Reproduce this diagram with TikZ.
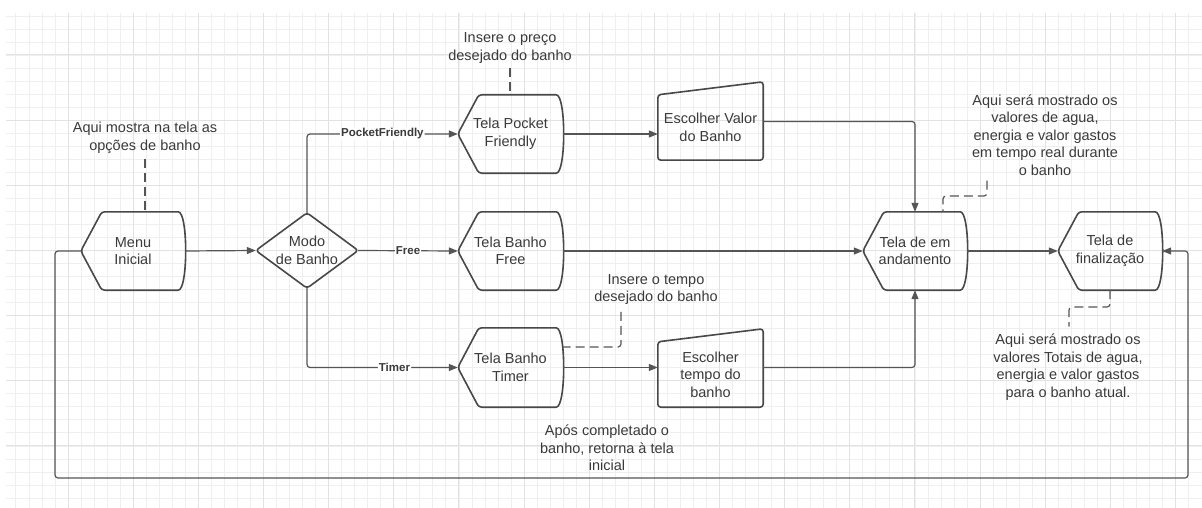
\documentclass[tikz,border=0pt]{standalone}
\usepackage{fontspec}
\setmainfont{Liberation Sans}
\usetikzlibrary{arrows.meta}
\definecolor{txt}{HTML}{3A3A3A}
\definecolor{ln}{HTML}{555555}
\definecolor{shl}{HTML}{484848}
\definecolor{gridminor}{HTML}{EFEFEF}
\definecolor{gridmajor}{HTML}{E2E2E2}
\newcommand\dispshape[1]{\draw[outl] (#1.west) -- ([xshift=21pt]#1.north west) -- ([xshift=-10pt]#1.north east) .. controls ([xshift=3pt]#1.north east) and ([xshift=3pt]#1.south east) .. ([xshift=-10pt]#1.south east) -- ([xshift=21pt]#1.south west) -- cycle;}
\newcommand\manshape[1]{\draw[outl] (#1.north west) -- ([yshift=13pt]#1.north east) -- (#1.south east) -- (#1.south west) -- cycle;}
\begin{document}
\begin{tikzpicture}[x=1pt,y=-1pt,
  shp/.style={rectangle, draw=none, inner sep=0pt, align=center, text=txt,
    font=\fontsize{14.5}{17.5}\selectfont, minimum width=105pt, minimum height=78pt},
  outl/.style={draw=shl, line width=1.6pt, line join=round, rounded corners=3pt},
  conn/.style={draw=ln, line width=1.2pt, rounded corners=3pt},
  arr/.style={conn, -{Triangle[length=9pt,width=7pt]}},
  note/.style={align=center, text=txt, font=\fontsize{14.5}{17.5}\selectfont, inner sep=1pt},
  dsh/.style={draw=ln, line width=1.2pt, dash pattern=on 9pt off 5pt, rounded corners=3pt},
  lbl/.style={fill=white, inner sep=1pt, text=txt, font=\fontsize{11.5}{13}\selectfont\bfseries}]
\useasboundingbox (0,0) rectangle (1202,508);
\fill[white] (0,0) rectangle (1202,508);
% grid
\begin{scope}
\clip (6,13) rectangle (1202,508);
\foreach \k in {-4,...,86} {\pgfmathsetmacro\xx{68+13.03*\k}
  \draw[gridminor, line width=0.8pt] (\xx,13) -- (\xx,508);}
\foreach \k in {-3,...,36} {\pgfmathsetmacro\yy{55+13.03*\k}
  \draw[gridminor, line width=0.8pt] (6,\yy) -- (1202,\yy);}
\foreach \k in {-5,0,...,85} {\pgfmathsetmacro\xx{68+13.03*\k}
  \draw[gridmajor, line width=1pt] (\xx,13) -- (\xx,508);}
\foreach \k in {-5,0,...,35} {\pgfmathsetmacro\yy{55+13.03*\k}
  \draw[gridmajor, line width=1pt] (6,\yy) -- (1202,\yy);}
\end{scope}
% nodes
\node[shp, minimum width=104pt] (menu) at (133,251) {Menu\\Inicial};
\node[shp, minimum width=102pt, minimum height=75pt] (modo) at (307,250.5) {Modo\\de Banho};
\node[shp] (pocket) at (510.5,134) {Tela Pocket\\Friendly};
\node[shp, minimum height=65pt] (ev) at (710.5,127.5) {Escolher Valor\\do Banho};
\node[shp] (free) at (510.5,251) {Tela Banho\\Free};
\node[shp, minimum height=79pt] (timer) at (510.5,367.5) {Tela Banho\\Timer};
\node[shp, minimum height=65pt] (et) at (710.5,374.5) {Escolher\\tempo do\\banho};
\node[shp, minimum width=104pt] (and) at (915,251) {Tela de em\\andamento};
\node[shp, minimum width=104pt] (fin) at (1110,251) {Tela de\\finalização};
\dispshape{menu}
\dispshape{pocket}
\dispshape{free}
\dispshape{timer}
\dispshape{and}
\dispshape{fin}
\manshape{ev}
\manshape{et}
\draw[outl] (modo.north) -- (modo.east) -- (modo.south) -- (modo.west) -- cycle;
% notes
\node[note] (a1) at (145,138) {Aqui mostra na tela as\\opções de banho};
\node[note] (a2) at (510,48) {Insere o preço\\desejado do banho};
\node[note] (a3) at (656,289.5) {Insere o tempo\\desejado do banho};
\node[note] (a4) at (1045,135) {Aqui será mostrado os\\valores de agua,\\energia e valor gastos\\em tempo real durante\\o banho};
\node[note] (a5) at (1068,367) {Aqui será mostrado os\\valores Totais de agua,\\energia e valor gastos\\para o banho atual.};
\node[note] (a6) at (607,448) {Após completado o\\banho, retorna à tela\\inicial};
% connectors
\draw[arr] (menu.east) -- (modo.west);
\draw[arr] (modo.north) |- (pocket.west) node[lbl, pos=0.75] {PocketFriendly};
\draw[arr] (modo.east) -- (free.west) node[lbl, midway] {Free};
\draw[arr] (modo.south) |- (timer.west) node[lbl, pos=0.79] {Timer};
\draw[arr] (pocket.east) -- (pocket.east -| ev.west);
\draw[arr] ([yshift=6pt]ev.east) -| (and.north);
\draw[arr] (free.east) -- (and.west);
\draw[arr] (timer.east) -- (timer.east -| et.west);
\draw[arr] (timer.east -| et.east) -| (and.south);
\draw[arr] (and.east) -- (fin.west);
\coordinate (lb) at (55,478);
\coordinate (rb) at (1188,478);
\draw[arr] (menu.west) -| (lb) -- (rb) |- (fin.east);
% dashed notes
\draw[dsh] ([yshift=-4pt]a1.south) -- (a1.south |- menu.north);
\draw[dsh] ([yshift=-4pt]a2.south) -- (a2.south |- pocket.north);
\coordinate (c3) at (621,347);
\draw[dsh] ([yshift=-6pt]a3.south -| c3) -- (c3) -- (c3 -| timer.east);
\coordinate (c4a) at (987,196);
\coordinate (c4b) at (943,196);
\draw[dsh] ([yshift=-4pt]a4.south -| c4a) -- (c4a) -- (c4b) -- (c4b |- and.north);
\coordinate (c5) at (1069,307);
\draw[dsh] (fin.south) |- (c5) -- ([yshift=6pt]a5.north -| c5);
\end{tikzpicture}
\end{document}
